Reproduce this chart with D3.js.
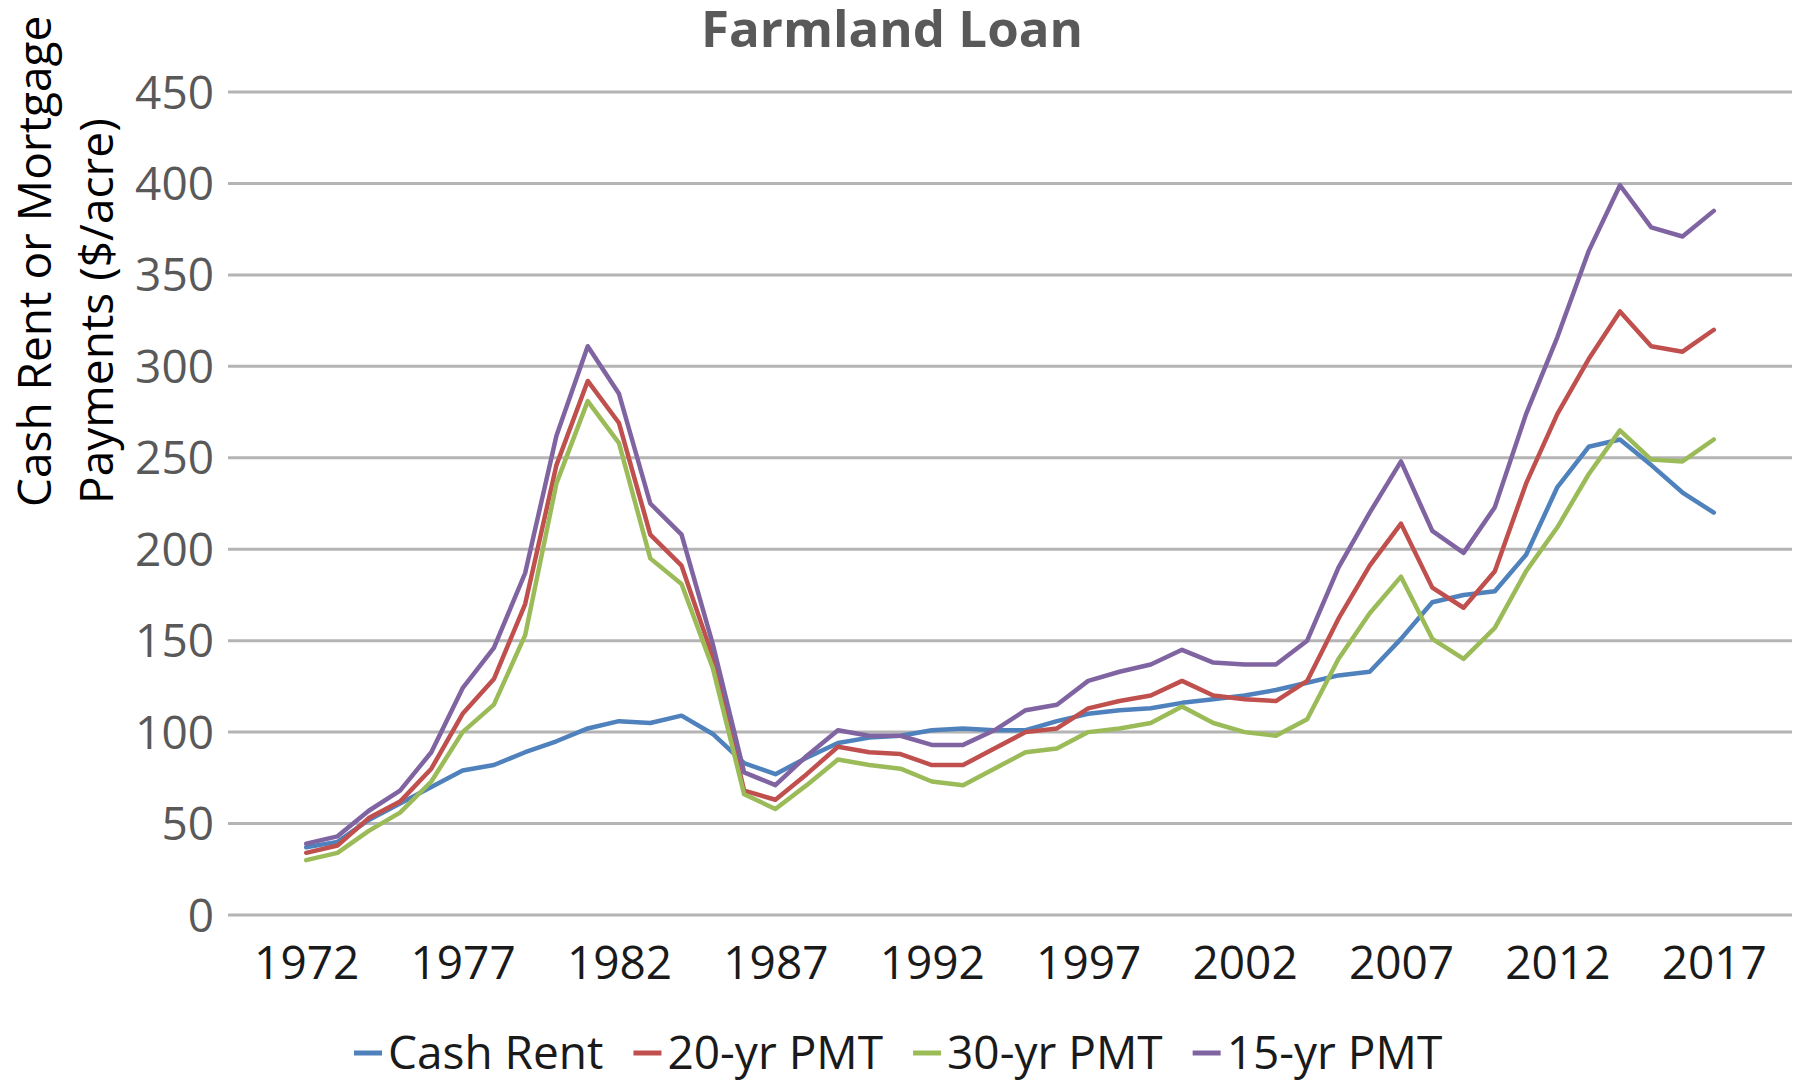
<!DOCTYPE html>
<html>
<head>
<meta charset="utf-8">
<script src="https://cdn.jsdelivr.net/npm/d3@7"></script>
<style>
  body { margin: 0; background: #fff; }
  svg { display: block; font-family: "Open Sans", "Noto Sans", sans-serif; }
  .grid line { stroke: #b4b4b4; stroke-width: 3; }
  .series { fill: none; stroke-width: 4.5; stroke-linejoin: round; stroke-linecap: round; }
</style>
</head>
<body>
<div class="chart_div"></div>
<script>
var years = d3.range(1972, 2018);
var yTicks = [0, 50, 100, 150, 200, 250, 300, 350, 400, 450];
var xTicks = [1972, 1977, 1982, 1987, 1992, 1997, 2002, 2007, 2012, 2017];
var seriesNames = ["Cash Rent", "20-yr PMT", "30-yr PMT", "15-yr PMT"];
var seriesColors = ["#4f81bd", "#c0504d", "#9bbb59", "#8064a2"];

var cashRent = [37,40,52,61,70,79,82,89,95,102,106,105,109,99,83,77,86,94,97,98,
                101,102,101,101,106,110,112,113,116,118,120,123,127,131,133,151,171,175,177,197,
                234,256,260,246,231,220];
var pmt20 = [34,38,53,62,80,110,129,170,246,292,269,208,191,141,68,63,77,92,89,88,
             82,82,91,100,102,113,117,120,128,120,118,117,128,162,191,214,179,168,188,236,
             274,304,330,311,308,320];
var pmt30 = [30,34,46,56,73,100,115,153,236,281,258,195,181,135,66,58,71,85,82,80,
             73,71,80,89,91,100,102,105,114,105,100,98,107,140,165,185,151,140,157,188,
             212,241,265,249,248,260];
var pmt15 = [39,43,57,68,89,124,146,187,262,311,285,225,208,148,78,71,87,101,98,98,
             93,93,101,112,115,128,133,137,145,138,137,137,150,190,220,248,210,198,223,274,
             316,363,399,376,371,385];
var allSeries = [cashRent, pmt20, pmt30, pmt15];

var chartW = 1804, chartH = 1081;
var plotLeft = 228, plotRight = 1792, plotTop = 92, plotBottom = 915;

var svg = d3.select(".chart_div").append("svg")
  .attr("width", chartW)
  .attr("height", chartH);

svg.append("rect").attr("width", chartW).attr("height", chartH).attr("fill", "#fff");

// category axis 1970..2019, data only on 1972..2017
var x = d3.scaleLinear().domain([1969.5, 2019.5]).range([plotLeft, plotRight]);
var y = d3.scaleLinear().domain([0, 450]).range([plotBottom, plotTop]);

// grid lines
svg.append("g")
  .attr("class", "grid")
  .selectAll("line")
  .data(yTicks)
  .enter()
  .append("line")
  .attr("x1", plotLeft)
  .attr("x2", plotRight)
  .attr("y1", function(d){ return y(d); })
  .attr("y2", function(d){ return y(d); });

// y axis labels
var yAxis = svg.append("g")
  .attr("transform", "translate(" + (plotLeft - 14) + ",0)")
  .call(d3.axisLeft(y).tickValues(yTicks).tickSize(0).tickPadding(0));
yAxis.select(".domain").remove();
yAxis.selectAll("text")
  .attr("font-size", 46)
  .attr("font-family", "'Open Sans', sans-serif")
  .attr("fill", "#595959")
  .attr("dy", "0.35em");

// x axis labels
var xAxis = svg.append("g")
  .attr("transform", "translate(0," + plotBottom + ")")
  .call(d3.axisBottom(x).tickValues(xTicks).tickFormat(d3.format("d")).tickSize(0).tickPadding(0));
xAxis.select(".domain").remove();
xAxis.selectAll("text")
  .attr("font-size", 46)
  .attr("font-family", "'Open Sans', sans-serif")
  .attr("fill", "#1a1a1a")
  .attr("y", 64)
  .attr("dy", 0);

// lines
var line = d3.line()
  .x(function(d, i){ return x(years[i]); })
  .y(function(d){ return y(d); });

svg.selectAll(".series")
  .data(allSeries)
  .enter()
  .append("path")
  .attr("class", "series")
  .attr("stroke", function(d, i){ return seriesColors[i]; })
  .attr("d", line);

// title
svg.append("text")
  .attr("x", 892)
  .attr("y", 47)
  .attr("text-anchor", "middle")
  .attr("font-size", 51)
  .attr("font-weight", "bold")
  .attr("fill", "#595959")
  .text("Farmland Loan");

// y axis title
var yTitle = ["Cash Rent or Mortgage", "Payments ($/acre)"];
svg.selectAll(".ytitle")
  .data(yTitle)
  .enter()
  .append("text")
  .attr("class", "ytitle")
  .attr("transform", function(d, i){
    return "translate(" + (i == 0 ? 51 : 113) + "," + (i == 0 ? 507 : 504) + ") rotate(-90)";
  })
  .attr("font-size", 46)
  .attr("fill", "#000")
  .text(function(d){ return d; });

// legend
var legend = svg.append("g").attr("transform", "translate(354,1053)");
var posX = 0;
seriesNames.forEach(function(name, i){
  var g = legend.append("g").attr("transform", "translate(" + posX + ",0)");
  g.append("line")
    .attr("x1", 0).attr("x2", 28)
    .attr("y1", 0).attr("y2", 0)
    .attr("stroke", seriesColors[i])
    .attr("stroke-width", 5);
  var t = g.append("text")
    .attr("x", 34)
    .attr("y", 16)
    .attr("font-size", 46)
    .attr("fill", "#1a1a1a")
    .text(name);
  posX += 34 + t.node().getComputedTextLength() + 30;
});
</script>
</body>
</html>
